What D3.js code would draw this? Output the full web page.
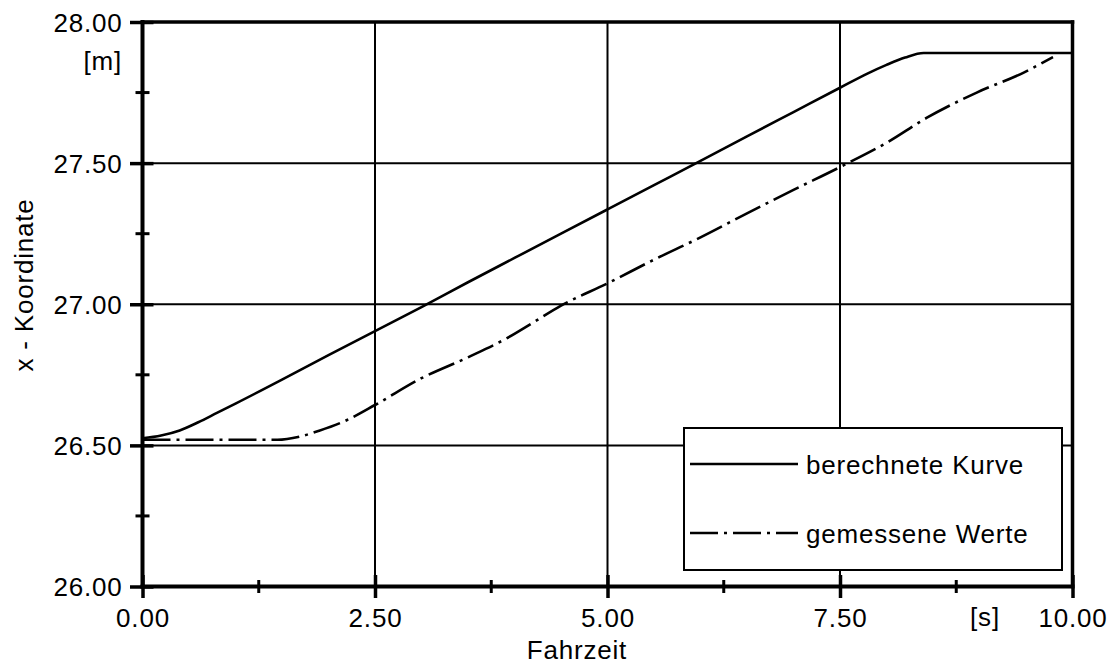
<!DOCTYPE html>
<html>
<head>
<meta charset="utf-8">
<script src="https://cdn.jsdelivr.net/npm/d3@7"></script>
<style>
  html, body { margin: 0; padding: 0; background: #fff; }
  svg text { font-family: "Liberation Sans", Arial, Helvetica, sans-serif; font-size: 26px; letter-spacing: 0.8px; fill: #000; }
</style>
</head>
<body>
<svg id="chart" width="1113" height="668"></svg>
<script>
// ---- data ----
const calcTime   = [0, 0.2, 0.4, 0.6, 0.8, 1.0, 1.5, 2.0, 2.5, 3.0, 3.5, 4.0, 4.5, 5.0, 5.5, 6.0, 6.5, 7.0, 7.5, 7.8, 8.0, 8.2, 8.4, 9.0, 10.0];
const calcValues = [26.525, 26.535, 26.553, 26.582, 26.615, 26.648, 26.733, 26.82, 26.905, 26.99, 27.078, 27.164, 27.25, 27.336, 27.422, 27.508, 27.595, 27.681, 27.767, 27.818, 27.848, 27.874, 27.89, 27.89, 27.89];
const measTime   = [0, 0.5, 1.0, 1.45, 1.7, 1.9, 2.2, 2.5, 3.0, 3.5, 3.92, 4.2, 4.5, 5.0, 5.5, 6.0, 6.5, 7.0, 7.5, 8.0, 8.43, 8.97, 9.47, 9.79];
const measValues = [26.52, 26.52, 26.52, 26.52, 26.532, 26.552, 26.59, 26.643, 26.738, 26.812, 26.88, 26.935, 26.995, 27.074, 27.158, 27.237, 27.322, 27.405, 27.486, 27.572, 27.66, 27.75, 27.82, 27.876];
const xMajorTicks = [0, 2.5, 5, 7.5, 10];
const xMinorTicks = [1.25, 3.75, 6.25, 8.75];
const yMajorTicks = [26, 26.5, 27, 27.5, 28];
const yMinorTicks = [26.25, 26.75, 27.25, 27.75];
const seriesNames = ["berechnete Kurve", "gemessene Werte"];
const xTitle = "Fahrzeit", yTitle = "x - Koordinate", xUnit = "[s]", yUnit = "[m]";

// ---- layout ----
const svg = d3.select("#chart");
const L = 142.5, R = 1072.5, T = 22, B = 586.5;
const x = d3.scaleLinear().domain([0, 10]).range([L, R]);
const y = d3.scaleLinear().domain([26, 28]).range([B, T]);
const fmt = d3.format(".2f");

// grid
const grid = svg.append("g").attr("stroke", "#000").attr("stroke-width", 2);
grid.selectAll("line.gx").data(xMajorTicks.filter(d => d > 0 && d < 10)).join("line")
  .attr("x1", d => x(d)).attr("x2", d => x(d)).attr("y1", T).attr("y2", B);
grid.selectAll("line.gy").data(yMajorTicks.filter(d => d > 26 && d < 28)).join("line")
  .attr("x1", L).attr("x2", R).attr("y1", d => y(d)).attr("y2", d => y(d));

// curves
const line = d3.line().x(d => x(d[0])).y(d => y(d[1])).curve(d3.curveMonotoneX);
svg.append("path").datum(calcTime.map((t, i) => [t, calcValues[i]]))
  .attr("d", line).attr("fill", "none").attr("stroke", "#000").attr("stroke-width", 2.6);
svg.append("path").datum(measTime.map((t, i) => [t, measValues[i]]))
  .attr("d", line).attr("fill", "none").attr("stroke", "#000").attr("stroke-width", 2.6)
  .attr("stroke-dasharray", "28,6,3,6");

// frame
const frame = svg.append("g").attr("stroke", "#000").attr("stroke-linecap", "square");
frame.append("line").attr("x1", L).attr("x2", R).attr("y1", T).attr("y2", T).attr("stroke-width", 3.5);
frame.append("line").attr("x1", R).attr("x2", R).attr("y1", T).attr("y2", B).attr("stroke-width", 3.5);
frame.append("line").attr("x1", L).attr("x2", L).attr("y1", T).attr("y2", B).attr("stroke-width", 4);
frame.append("line").attr("x1", L).attr("x2", R).attr("y1", B).attr("y2", B).attr("stroke-width", 4);

// axes via d3
const xAxis = svg.append("g").attr("transform", `translate(0,${B})`)
  .call(d3.axisBottom(x).tickValues(xMajorTicks).tickSize(0).tickPadding(0).tickFormat(fmt));
xAxis.select(".domain").remove();
xAxis.selectAll(".tick text").attr("y", 40).attr("dy", 0).style("font-size", "26px");
xAxis.selectAll(".tick").append("line").attr("y1", -11.5).attr("y2", 11.5).attr("stroke", "#000").attr("stroke-width", 3.5);
xAxis.selectAll(".minor").data(xMinorTicks).join("line")
  .attr("x1", d => x(d)).attr("x2", d => x(d)).attr("y1", -6.5).attr("y2", 6.5)
  .attr("stroke", "#000").attr("stroke-width", 3);

const yAxis = svg.append("g").attr("transform", `translate(${L},0)`)
  .call(d3.axisLeft(y).tickValues(yMajorTicks).tickSize(0).tickPadding(0).tickFormat(fmt));
yAxis.select(".domain").remove();
yAxis.selectAll(".tick text").attr("x", -20).attr("dy", "0.35em").style("font-size", "26px");
yAxis.selectAll(".tick").append("line").attr("x1", -12.5).attr("x2", 11).attr("stroke", "#000").attr("stroke-width", 3.5);
yAxis.selectAll(".minor").data(yMinorTicks).join("line")
  .attr("x1", -7).attr("x2", 7).attr("y1", d => y(d)).attr("y2", d => y(d))
  .attr("stroke", "#000").attr("stroke-width", 3);

// units & titles
svg.append("text").attr("x", 122).attr("y", 70).attr("text-anchor", "end").text(yUnit);
svg.append("text").attr("x", 985).attr("y", 626).attr("text-anchor", "middle").text(xUnit);
svg.append("text").attr("x", 577).attr("y", 659).attr("text-anchor", "middle").text(xTitle);
svg.append("text").attr("transform", "translate(33,285) rotate(-90)").attr("text-anchor", "middle").text(yTitle);

// legend
const lg = svg.append("g");
lg.append("rect").attr("x", 684).attr("y", 428).attr("width", 378).attr("height", 142)
  .attr("fill", "#fff").attr("stroke", "#000").attr("stroke-width", 2);
const legendY = [464, 533];
const dashes = [null, "28,6,3,6"];
seriesNames.forEach((name, i) => {
  lg.append("line").attr("x1", 690).attr("x2", 798).attr("y1", legendY[i]).attr("y2", legendY[i])
    .attr("stroke", "#000").attr("stroke-width", 2.6).attr("stroke-dasharray", dashes[i]);
  lg.append("text").attr("x", 806).attr("y", legendY[i] + 10).text(name);
});
</script>
</body>
</html>
